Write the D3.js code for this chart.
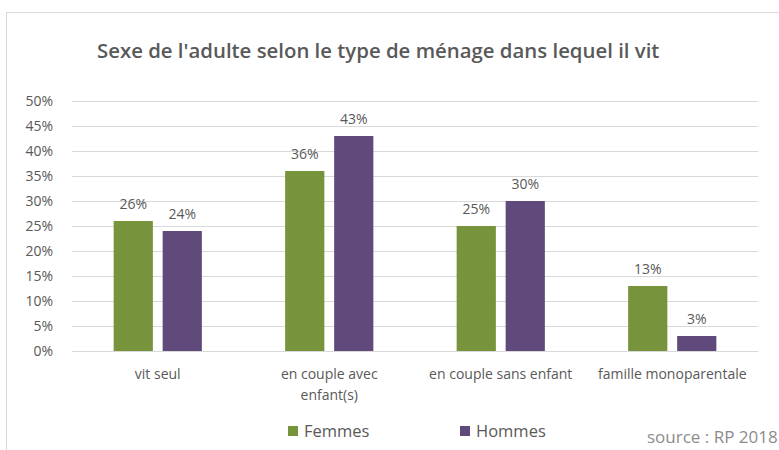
<!DOCTYPE html>
<html>
<head>
<meta charset="utf-8">
<script src="https://cdn.jsdelivr.net/npm/d3@7"></script>
<style>
  html, body { margin: 0; padding: 0; background: #ffffff; }
  svg { display: block; }
</style>
</head>
<body>
<svg id="chart" width="779" height="450"></svg>
<script>
// Household type categories (two-line labels split on "|")
const categories = ["vit seul", "en couple avec|enfant(s)", "en couple sans enfant", "famille monoparentale"];
const seriesNames = ["Femmes", "Hommes"];
const femmes = [26, 36, 25, 13];
const hommes = [24, 43, 30, 3];
const yTicks = [0, 5, 10, 15, 20, 25, 30, 35, 40, 45, 50];
const colors = ["#77933c", "#604a7b"];
const titleText = "Sexe de l'adulte selon le type de ménage dans lequel il vit";
const sourceText = "source : RP 2018";

const font = "'Open Sans', 'DejaVu Sans', sans-serif";
const svg = d3.select("#chart");

// Chart frame
svg.append("rect")
  .attr("x", 6.5).attr("y", 12.5)
  .attr("width", 800).attr("height", 500)
  .attr("fill", "#ffffff")
  .attr("stroke", "#d9d9d9").attr("stroke-width", 1);

const plot = { left: 72, right: 758, top: 101, bottom: 351 };

const x0 = d3.scaleBand()
  .domain(categories)
  .range([plot.left, plot.right])
  .paddingInner(0).paddingOuter(0);

const x1 = d3.scaleBand()
  .domain(seriesNames)
  .range([0, x0.bandwidth()])
  .paddingInner(0.2)
  .paddingOuter(0.85);

const y = d3.scaleLinear()
  .domain([0, 50])
  .range([plot.bottom, plot.top]);

// Gridlines and percentage ticks
const yAxis = d3.axisLeft(y)
  .tickValues(yTicks)
  .tickSize(-(plot.right - plot.left))
  .tickFormat(d => d + "%");

const gy = svg.append("g")
  .attr("transform", `translate(${plot.left},0)`)
  .call(yAxis);
gy.select(".domain").remove();
gy.selectAll(".tick line")
  .attr("stroke", "#d9d9d9").attr("stroke-width", 1);
gy.selectAll(".tick text")
  .attr("x", -19)
  .attr("dy", "0.35em")
  .attr("fill", "#595959")
  .style("font-family", font)
  .style("font-size", "14px");

// Bars
const data = categories.map((c, i) => ({
  category: c,
  values: [
    { key: seriesNames[0], value: femmes[i], color: colors[0] },
    { key: seriesNames[1], value: hommes[i], color: colors[1] }
  ]
}));

const groups = svg.append("g").selectAll("g")
  .data(data)
  .join("g")
  .attr("transform", d => `translate(${x0(d.category)},0)`);

groups.selectAll("rect")
  .data(d => d.values)
  .join("rect")
  .attr("x", d => x1(d.key))
  .attr("y", d => y(d.value))
  .attr("width", x1.bandwidth())
  .attr("height", d => y(0) - y(d.value))
  .attr("fill", d => d.color);

// Value labels
groups.selectAll("text.val")
  .data(d => d.values)
  .join("text")
  .attr("class", "val")
  .attr("x", d => x1(d.key) + x1.bandwidth() / 2)
  .attr("y", d => y(d.value) - 12)
  .attr("text-anchor", "middle")
  .attr("fill", "#595959")
  .style("font-family", font)
  .style("font-size", "14px")
  .text(d => d.value + "%");

// Category labels
const catLabels = svg.append("g").selectAll("text")
  .data(categories)
  .join("text")
  .attr("x", d => x0(d) + x0.bandwidth() / 2)
  .attr("y", 379)
  .attr("text-anchor", "middle")
  .attr("fill", "#595959")
  .style("font-family", font)
  .style("font-size", "14px");
catLabels.selectAll("tspan")
  .data(d => d.split("|"))
  .join("tspan")
  .attr("x", function () { return d3.select(this.parentNode).attr("x"); })
  .attr("dy", (d, i) => i === 0 ? 0 : 21)
  .text(d => d);

// Title
const title = svg.append("text")
  .attr("x", 97)
  .attr("y", 58)
  .attr("fill", "#595959")
  .style("font-family", font)
  .style("font-weight", "600")
  .style("font-size", "19px")
  .text(titleText);
const tw = title.node().getComputedTextLength();
title.style("font-size", (19 * 563 / tw).toFixed(2) + "px");

// Legend
const legendX = [288, 460];
const legend = svg.append("g").selectAll("g")
  .data(seriesNames)
  .join("g")
  .attr("transform", (d, i) => `translate(${legendX[i]},0)`);
legend.append("rect")
  .attr("x", 0).attr("y", 426)
  .attr("width", 10).attr("height", 10)
  .attr("fill", (d, i) => colors[i]);
legend.append("text")
  .attr("x", 16).attr("y", 437)
  .attr("fill", "#595959")
  .style("font-family", font)
  .style("font-size", "16.5px")
  .text(d => d);

// Source note
svg.append("text")
  .attr("x", 647).attr("y", 443)
  .attr("fill", "#8c8c8c")
  .style("font-family", font)
  .style("font-size", "17px")
  .text(sourceText);
</script>
</body>
</html>
